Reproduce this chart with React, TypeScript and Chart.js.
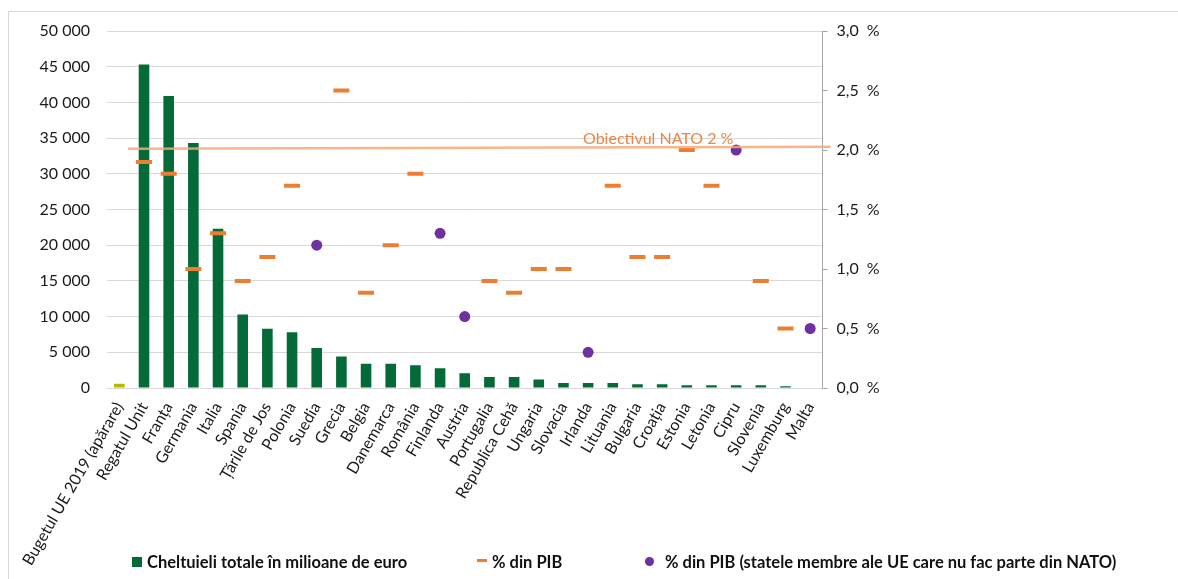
import React, { useEffect, useRef } from "react";
import { Chart, registerables } from "chart.js";

Chart.register(...registerables);

// Defence spending in the EU, by member state
const categories = [
  "Bugetul UE 2019 (apărare)",
  "Regatul Unit",
  "Franța",
  "Germania",
  "Italia",
  "Spania",
  "Țările de Jos",
  "Polonia",
  "Suedia",
  "Grecia",
  "Belgia",
  "Danemarca",
  "România",
  "Finlanda",
  "Austria",
  "Portugalia",
  "Republica Cehă",
  "Ungaria",
  "Slovacia",
  "Irlanda",
  "Lituania",
  "Bulgaria",
  "Croația",
  "Estonia",
  "Letonia",
  "Cipru",
  "Slovenia",
  "Luxemburg",
  "Malta",
];

// Total spending, million euro
const spending = [
  590, 45300, 40900, 34300, 22300, 10300, 8300, 7800, 5600, 4400, 3400, 3400,
  3200, 2750, 2050, 1550, 1550, 1200, 700, 700, 700, 520, 520, 400, 400, 400,
  400, 250, 60,
];

// Share of GDP (%), NATO members
const gdpShareNato: (number | null)[] = [
  null, 1.9, 1.8, 1.0, 1.3, 0.9, 1.1, 1.7, null, 2.5, 0.8, 1.2, 1.8, null,
  null, 0.9, 0.8, 1.0, 1.0, null, 1.7, 1.1, 1.1, 2.0, 1.7, null, 0.9, 0.5,
  null,
];

// Share of GDP (%), EU members outside NATO
const gdpShareNonNato: (number | null)[] = [
  null, null, null, null, null, null, null, null, 1.2, null, null, null, null,
  1.3, 0.6, null, null, null, null, 0.3, null, null, null, null, null, 2.0,
  null, null, 0.5,
];

const natoTarget = 2.0;
const natoLabel = "Obiectivul NATO 2 %";

const legendSpending = "Cheltuieli totale în milioane de euro";
const legendNato = "% din PIB";
const legendNonNato =
  "% din PIB (statele membre ale UE care nu fac parte din NATO)";

const GREEN = "#046A38";
const EU_BUDGET = "#B7B800";
const ORANGE = "#ED7D31";
const PURPLE = "#7030A0";
const TARGET_LINE = "rgba(244, 170, 120, 0.85)";

const W = 1178;
const H = 579;

const formatThousands = (v: number) =>
  String(v).replace(/\B(?=(\d{3})+(?!\d))/g, " ");

const targetPlugin = {
  id: "natoTarget",
  afterDatasetsDraw(chart: any) {
    const { ctx, chartArea } = chart;
    const y1 = chart.scales.y1;
    const yPix = y1.getPixelForValue(natoTarget);
    ctx.save();
    ctx.strokeStyle = TARGET_LINE;
    ctx.lineWidth = 2.5;
    ctx.beginPath();
    ctx.moveTo(chartArea.left + 21, yPix - 1.3);
    ctx.lineTo(chartArea.right + 8, yPix - 3.3);
    ctx.stroke();
    ctx.fillStyle = "#EE8442";
    ctx.font = "16px Lato";
    ctx.textBaseline = "alphabetic";
    ctx.textAlign = "left";
    ctx.fillText(natoLabel, chartArea.left + 476, yPix - 6);
    ctx.restore();
  },
};

export default function App() {
  const canvasRef = useRef<HTMLCanvasElement | null>(null);

  useEffect(() => {
    if (!canvasRef.current) return;
    Chart.defaults.font.family = "Lato";
    const chart = new Chart(canvasRef.current, {
      type: "bar",
      data: {
        labels: categories,
        datasets: [
          {
            type: "line",
            label: legendNato,
            data: gdpShareNato,
            yAxisID: "y1",
            showLine: false,
            pointStyle: "line",
            pointRadius: 8,
            pointBorderWidth: 4,
            pointBorderColor: ORANGE,
            pointBackgroundColor: ORANGE,
            order: 1,
          } as any,
          {
            type: "line",
            label: legendNonNato,
            data: gdpShareNonNato,
            yAxisID: "y1",
            showLine: false,
            pointStyle: "circle",
            pointRadius: 5.5,
            pointBorderWidth: 0,
            pointBackgroundColor: PURPLE,
            pointBorderColor: PURPLE,
            order: 0,
          } as any,
          {
            type: "bar",
            label: legendSpending,
            data: spending,
            yAxisID: "y",
            backgroundColor: spending.map((_, i) => (i === 0 ? EU_BUDGET : GREEN)),
            categoryPercentage: 1,
            barPercentage: 0.43,
            order: 3,
          },
        ],
      },
      options: {
        responsive: false,
        animation: false,
        layout: { padding: { top: 31, left: 0, right: 0, bottom: 0 } },
        plugins: {
          legend: { display: false },
          tooltip: { enabled: false },
        },
        scales: {
          x: {
            grid: { display: false },
            border: { display: false },
            ticks: {
              autoSkip: false,
              maxRotation: 60,
              minRotation: 60,
              padding: 3,
              color: "#1a1a1a",
              font: { size: 16 },
            },
            afterFit(s: any) {
              s.height = H - 388;
            },
          },
          y: {
            position: "left",
            min: 0,
            max: 50000,
            grid: { color: "#D9D9D9", lineWidth: 1, drawTicks: false },
            border: { display: false },
            ticks: {
              stepSize: 5000,
              padding: 17,
              color: "#1a1a1a",
              font: { size: 16 },
              callback: (v: any) => formatThousands(Number(v)),
            },
            afterFit(s: any) {
              s.width = 107;
            },
          },
          y1: {
            position: "right",
            min: 0,
            max: 3,
            grid: {
              drawOnChartArea: false,
              drawTicks: true,
              tickLength: 5,
              color: "#A6A6A6",
            },
            border: { display: true, color: "#A6A6A6", width: 1 },
            ticks: {
              stepSize: 0.5,
              padding: 9,
              color: "#1a1a1a",
              font: { size: 16 },
              callback: (v: any) =>
                Number(v).toFixed(1).replace(".", ",") + "\u2002%",
            },
            afterFit(s: any) {
              s.width = W - 822.5;
            },
          },
        },
      } as any,
      plugins: [targetPlugin],
    });
    return () => chart.destroy();
  }, []);

  const legendText: React.CSSProperties = {
    position: "absolute",
    top: 552,
    fontFamily: "Lato",
    fontWeight: 700,
    fontSize: 16.5,
    lineHeight: "20px",
    color: "#111",
    whiteSpace: "nowrap",
  };

  return (
    <div
      style={{
        position: "fixed",
        left: 0,
        top: 0,
        width: W,
        height: H,
        background: "#fff",
        overflow: "hidden",
      }}
    >
      <div
        style={{
          position: "absolute",
          left: 8,
          top: 11,
          width: W - 8,
          height: H - 11,
          borderTop: "1px solid #D9D9D9",
          borderLeft: "1px solid #D9D9D9",
          boxSizing: "border-box",
        }}
      />
      <canvas
        ref={canvasRef}
        width={W}
        height={H}
        style={{ position: "absolute", left: 0, top: 0, width: W, height: H }}
      />
      <div
        style={{
          position: "absolute",
          left: 132,
          top: 557,
          width: 10,
          height: 10,
          background: GREEN,
        }}
      />
      <div style={{ ...legendText, left: 147 }}>{legendSpending}</div>
      <div
        style={{
          position: "absolute",
          left: 477,
          top: 559,
          width: 10,
          height: 3,
          background: ORANGE,
        }}
      />
      <div style={{ ...legendText, left: 492 }}>{legendNato}</div>
      <div
        style={{
          position: "absolute",
          left: 645,
          top: 557,
          width: 9,
          height: 9,
          borderRadius: "50%",
          background: PURPLE,
        }}
      />
      <div style={{ ...legendText, left: 665 }}>{legendNonNato}</div>
    </div>
  );
}
